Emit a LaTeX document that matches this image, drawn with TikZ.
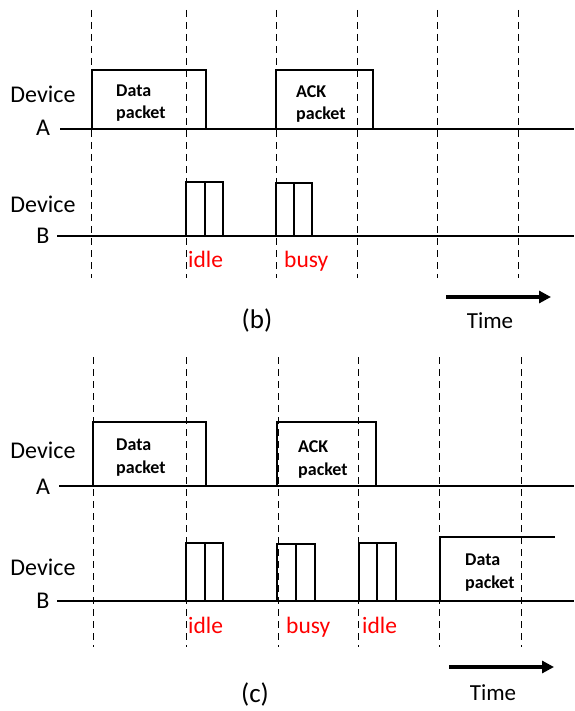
\documentclass[tikz,border=0pt]{standalone}
\usepackage{fontspec}
\setmainfont{Carlito}
\usetikzlibrary{arrows.meta}
\tikzset{
  sig/.style={line width=2pt, line join=miter},
  vline/.style={line width=0.9pt, dash pattern=on 7pt off 5pt},
  lbl/.style={font=\fontsize{24}{28}\selectfont, anchor=base, inner sep=0pt},
  figcap/.style={font=\fontsize{27}{30}\selectfont, anchor=center, inner sep=0pt},
  tm/.style={font=\fontsize{23}{27}\selectfont, anchor=base, inner sep=0pt},
  pk/.style={font=\bfseries\fontsize{18}{22}\selectfont, anchor=base west, inner sep=0pt},
  st/.style={font=\fontsize{23.5}{27}\selectfont, anchor=base west, inner sep=0pt, text=red},
  tarrow/.style={line width=3.5pt, -{Triangle[length=12pt,width=12pt]}}
}
\begin{document}
\begin{tikzpicture}[x=1pt,y=-1pt]
\useasboundingbox (0,0) rectangle (574,711);
% ---------------- (b) ----------------
\foreach \x in {91,186,276,357,437,518}
  \draw[vline] (\x,10) -- (\x,278);
% Device A
\draw[sig] (60,129) -- (574,129);
\draw[sig] (92,129) |- (206,70) -- (206,129);
\draw[sig] (276,129) |- (373,70) -- (373,129);
% Device B
\draw[sig] (57,236) -- (574,236);
\draw[sig] (186,236) |- (223,182) -- (223,236);
\draw[sig] (205,182) -- (205,236);
\draw[sig] (276,236) |- (313,183);
\draw[sig] (294,183) -- (294,236);
\draw[sig] (312,183) -- (312,236);
% labels
\node[lbl] (bdevA) at (43,103) {Device};
\node[lbl] (bA) at (43,136) {A};
\node[lbl] (bdevB) at (43,212) {Device};
\node[lbl] (bB) at (43,243) {B};
\node[pk] (bdata1) at (116,97) {Data};
\node[pk] (bdata2) at (116,119) {packet};
\node[pk] (back1) at (296,98) {ACK};
\node[pk] (back2) at (296,120) {packet};
\node[st] (bidle) at (188,267) {idle};
\node[st] (bbusy) at (284,267) {busy};
\node[figcap] (bcap) at (257,320) {(b)};
\coordinate (bt0) at (446,297);
\coordinate (bt1) at (551,297);
\draw[tarrow] (bt0) -- (bt1);
\node[tm] (btime) at (490,328) {Time};
% ---------------- (c) ----------------
\foreach \x in {93,186,278,358,439,521}
  \draw[vline] (\x,357) -- (\x,647);
% Device A
\draw[sig] (59,486) -- (574,486);
\draw[sig] (93,486) |- (206,422) -- (206,486);
\draw[sig] (277,486) |- (376,422) -- (376,486);
% Device B
\draw[sig] (57,601) -- (574,601);
\draw[sig] (186,601) |- (223,543) -- (223,601);
\draw[sig] (205,543) -- (205,601);
\draw[sig] (277,601) |- (315,544) -- (315,601);
\draw[sig] (296,544) -- (296,601);
\draw[sig] (359,601) |- (396,543) -- (396,601);
\draw[sig] (377,543) -- (377,601);
\draw[sig] (440,601) |- (555,537);
% labels
\node[lbl] (cdevA) at (43,458) {Device};
\node[lbl] (cA) at (43,494) {A};
\node[lbl] (cdevB) at (43,575) {Device};
\node[lbl] (cB) at (43,608) {B};
\node[pk] (cdata1) at (116,450) {Data};
\node[pk] (cdata2) at (116,473) {packet};
\node[pk] (cack1) at (298,452) {ACK};
\node[pk] (cack2) at (298,475) {packet};
\node[pk] (cdata3) at (465,565) {Data};
\node[pk] (cdata4) at (465,588) {packet};
\node[st] (cidle1) at (188,633) {idle};
\node[st] (cbusy) at (286,633) {busy};
\node[st] (cidle2) at (362,633) {idle};
\node[figcap] (ccap) at (255,694) {(c)};
\coordinate (ct0) at (449,667);
\coordinate (ct1) at (554,667);
\draw[tarrow] (ct0) -- (ct1);
\node[tm] (ctime) at (493,700) {Time};
\end{tikzpicture}
\end{document}
